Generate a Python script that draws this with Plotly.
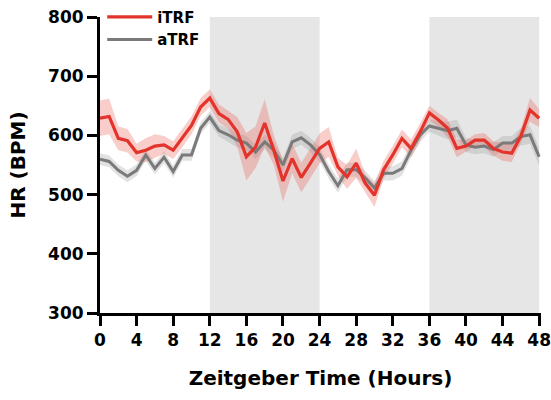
import plotly.graph_objects as go

hours = list(range(49))
itrf = [629, 632, 595, 591, 571, 575, 582, 584, 575, 595, 617, 648, 663, 637, 627, 606, 564, 580, 621, 575,
        523, 561, 529, 553, 578, 589, 547, 530, 553, 519, 499, 542, 567, 595, 578, 606, 638, 626, 612, 578,
        582, 592, 592, 578, 572, 570, 599, 643, 629]
itrf_sem = [30, 30, 20, 20, 15, 20, 20, 15, 15, 15, 15, 15, 15, 15, 15, 25, 40, 35, 40, 25,
            35, 25, 25, 25, 25, 25, 15, 20, 25, 15, 20, 15, 15, 15, 15, 15, 12, 12, 15, 15,
            10, 10, 12, 12, 15, 15, 12, 20, 15]
atrf = [560, 556, 541, 531, 541, 567, 544, 563, 539, 567, 567, 612, 631, 608, 601, 592, 587, 572, 589, 575,
        550, 589, 596, 584, 568, 539, 515, 542, 542, 528, 511, 536, 536, 544, 575, 601, 616, 612, 608, 612,
        584, 580, 582, 576, 587, 587, 598, 601, 564]
atrf_sem = [10, 10, 10, 10, 10, 10, 10, 10, 10, 10, 10, 10, 10, 10, 12, 12, 12, 12, 12, 12,
            12, 12, 12, 12, 12, 12, 12, 12, 12, 12, 12, 12, 12, 12, 12, 12, 10, 12, 15, 15,
            12, 12, 12, 12, 12, 12, 15, 15, 15]
dark_phases = [(12, 24), (36, 48)]
y_ticks = [300, 400, 500, 600, 700, 800]
x_ticks = list(range(0, 49, 4))

RED = "#e3332a"
GREY = "#7a7a7a"

fig = go.Figure()


def band(y, sem, color):
    upper = [v + s for v, s in zip(y, sem)]
    lower = [v - s for v, s in zip(y, sem)]
    return go.Scatter(x=hours + hours[::-1], y=upper + lower[::-1], fill="toself",
                      fillcolor=color, line=dict(width=0), mode="lines",
                      hoverinfo="skip", showlegend=False)


fig.add_trace(band(atrf, atrf_sem, "rgba(150,150,150,0.28)"))
fig.add_trace(band(itrf, itrf_sem, "rgba(232,90,80,0.30)"))
fig.add_trace(go.Scatter(x=hours, y=atrf, mode="lines", name="aTRF",
                         line=dict(color=GREY, width=3)))
fig.add_trace(go.Scatter(x=hours, y=itrf, mode="lines", name="iTRF",
                         line=dict(color=RED, width=3.2)))

for a, b in dark_phases:
    fig.add_shape(type="rect", xref="x", yref="y", x0=a, x1=b, y0=300, y1=800,
                  fillcolor="#e6e6e6", line=dict(width=0), layer="below")

font_family = "DejaVu Sans, sans-serif"
fig.update_layout(
    width=551, height=400,
    margin=dict(l=100, r=10, t=17, b=87, autoexpand=False),
    paper_bgcolor="white", plot_bgcolor="white",
    font=dict(family=font_family, color="black"),
    legend=dict(x=0.005, y=1.055, xanchor="left", yanchor="top", traceorder="reversed",
                bgcolor="rgba(0,0,0,0)", font=dict(size=15, family=font_family, weight="bold"),
                itemwidth=45, tracegroupgap=0),
    xaxis=dict(range=[0, 48.2], tickvals=x_ticks, ticktext=[str(t) for t in x_ticks],
               showgrid=False, zeroline=False, showline=True, linecolor="black", linewidth=3,
               ticks="outside", ticklen=10, tickwidth=3, tickcolor="black",
               tickfont=dict(size=17, weight="bold"), automargin=False, ticklabeloverflow="allow",
               title=dict(text="Zeitgeber Time (Hours)", font=dict(size=20, weight="bold"), standoff=22)),
    yaxis=dict(range=[300, 800], tickvals=y_ticks, ticktext=[str(t) for t in y_ticks],
               showgrid=False, zeroline=False, showline=True, linecolor="black", linewidth=3,
               ticks="outside", ticklen=10, tickwidth=3, tickcolor="black",
               tickfont=dict(size=17, weight="bold"), automargin=False,
               title=dict(text="HR (BPM)", font=dict(size=20, weight="bold"), standoff=18)),
)

fig.write_html("out.html")
